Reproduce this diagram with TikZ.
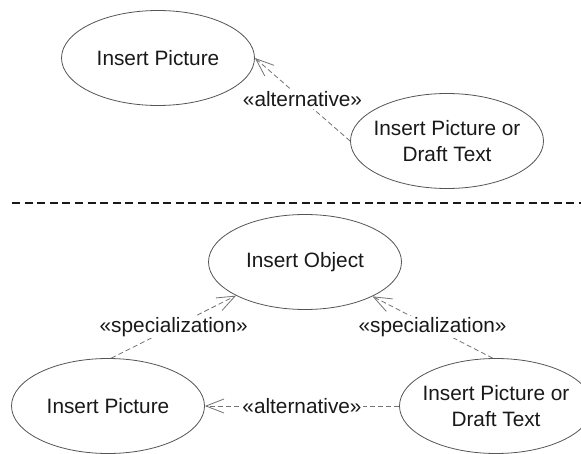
\documentclass[tikz,border=0pt]{standalone}
\usepackage{fontspec}
\setmainfont{Liberation Sans}
\usetikzlibrary{shapes.geometric,arrows.meta}
\definecolor{outline}{RGB}{85,85,85}
\definecolor{linkgray}{RGB}{115,115,115}
\definecolor{inkblack}{RGB}{25,25,25}
\tikzset{
  usecase/.style={ellipse, draw=outline, line width=0.8pt, inner sep=0pt,
    minimum width=193pt, minimum height=95pt},
  uctext/.style={align=center, text=inkblack, inner sep=0pt,
    font=\fontsize{20.8}{25.5}\selectfont},
  link/.style={draw=linkgray, line width=0.8pt, dash pattern=on 5pt off 3pt,
    -{Straight Barb[length=18pt,width=14pt,line width=0.8pt]}},
  tag/.style={fill=white, text=inkblack, inner sep=1.5pt,
    font=\fontsize{20.8}{25}\selectfont},
  divider/.style={draw=black!90, line width=1.6pt, dash pattern=on 8pt off 4.6pt}
}
\begin{document}
\begin{tikzpicture}[x=1pt,y=-1pt]
\clip (0,0) rectangle (581,454);
\fill[white] (0,0) rectangle (581,454);

% upper part: alternative
\node[usecase] (pic1) at (158,58) {};
\node[uctext] at (pic1) {Insert Picture};
\node[usecase] (alt1) at (447,141) {};
\node[uctext] at (alt1) {Insert Picture or\\Draft Text};
\draw[link] (alt1.180) -- node[tag] {«alternative»} (pic1.0);

% separator
\coordinate (sepL) at (12,203);
\coordinate (sepR) at (581,203);
\draw[divider] (sepL) -- (sepR);

% lower part: specialization
\node[usecase] (obj) at (305,262) {};
\node[uctext] at (obj) {Insert Object};
\node[usecase] (pic2) at (108,406) {};
\node[uctext] at (pic2) {Insert Picture};
\node[usecase] (alt2) at (496,406) {};
\node[uctext] at (alt2) {Insert Picture or\\Draft Text};

\draw[link] (pic2.86) -- node[tag] {«specialization»} (obj.206);
\draw[link] (alt2.94) -- node[tag] {«specialization»} (obj.333);
\draw[link] (alt2.180) -- node[tag] {«alternative»} (pic2.0);
\end{tikzpicture}
\end{document}
